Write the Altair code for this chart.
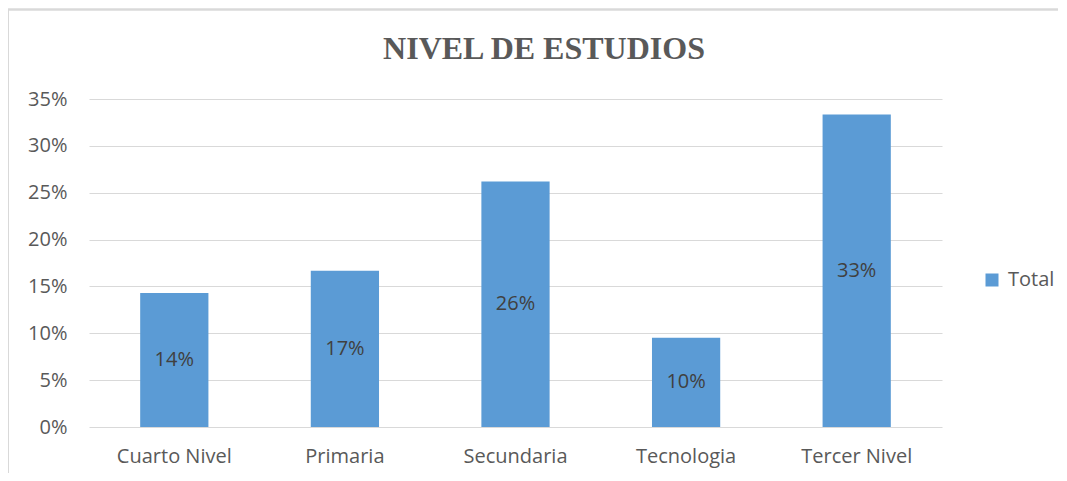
import altair as alt
import pandas as pd

categories = ["Cuarto Nivel", "Primaria", "Secundaria", "Tecnologia", "Tercer Nivel"]
values = [6 / 42, 7 / 42, 11 / 42, 4 / 42, 14 / 42]
series = ["Total"] * 5
title_text = ["NIVEL DE ESTUDIOS"]

df = pd.DataFrame({"cat": categories, "val": values, "serie": series})
tdf = pd.DataFrame({"t": title_text})

FONT = "Open Sans"
BLUE = "#5B9BD5"
FS = 20

base = alt.Chart(df)

x = alt.X("cat:N", sort=categories, title=None,
          scale=alt.Scale(paddingInner=0.6, paddingOuter=0.3),
          axis=alt.Axis(labelAngle=0, labelFont=FONT, labelFontSize=FS,
                        labelColor="#595959", labelPadding=19, ticks=False,
                        domain=False, grid=False))
y = alt.Y("val:Q", title=None,
          scale=alt.Scale(domain=[0, 0.35], nice=False),
          axis=alt.Axis(format=".0%", values=[0, 0.05, 0.1, 0.15, 0.2, 0.25, 0.3, 0.35],
                        labelFont=FONT, labelFontSize=FS, labelColor="#595959",
                        labelPadding=22, ticks=False, domain=False,
                        gridColor="#D9D9D9", gridWidth=1.2))

bars = base.mark_bar(color=BLUE).encode(
    x=x, y=y,
    color=alt.Color("serie:N", scale=alt.Scale(range=[BLUE]),
                    legend=alt.Legend(title=None, orient="none", legendX=893, legendY=171,
                                      symbolType="square", symbolSize=169,
                                      symbolStrokeWidth=0,
                                      labelFont=FONT, labelFontSize=FS,
                                      labelColor="#595959", labelOffset=6)),
)

labels = base.transform_calculate(mid="datum.val / 2").mark_text(
    font=FONT, fontSize=FS, color="#404040"
).encode(
    x=alt.X("cat:N", sort=categories),
    y=alt.Y("mid:Q"),
    text=alt.Text("val:Q", format=".0%"),
)

title = alt.Chart(tdf).mark_text(
    font="Liberation Serif", fontSize=32, fontWeight="bold", color="#595959",
    align="center", baseline="alphabetic"
).encode(x=alt.value(455), y=alt.value(-40), text="t:N")

border_left = base.mark_rule(color="#D9D9D9", strokeWidth=1.5).encode(
    x=alt.value(-81), y=alt.value(-89.5), y2=alt.value(400)
)
border_top = base.mark_rule(color="#D9D9D9", strokeWidth=1.5).encode(
    x=alt.value(-81), x2=alt.value(1100), y=alt.value(-89.5)
)

chart = alt.layer(border_left, border_top, bars, labels, title).properties(
    width=853,
    height=328,
    autosize=alt.AutoSizeParams(type="none"),
    padding={"left": 81, "top": 91, "right": 116, "bottom": 46},
).configure_view(stroke=None)

chart.save("out.html", embed_options={"renderer": "svg", "actions": False})
